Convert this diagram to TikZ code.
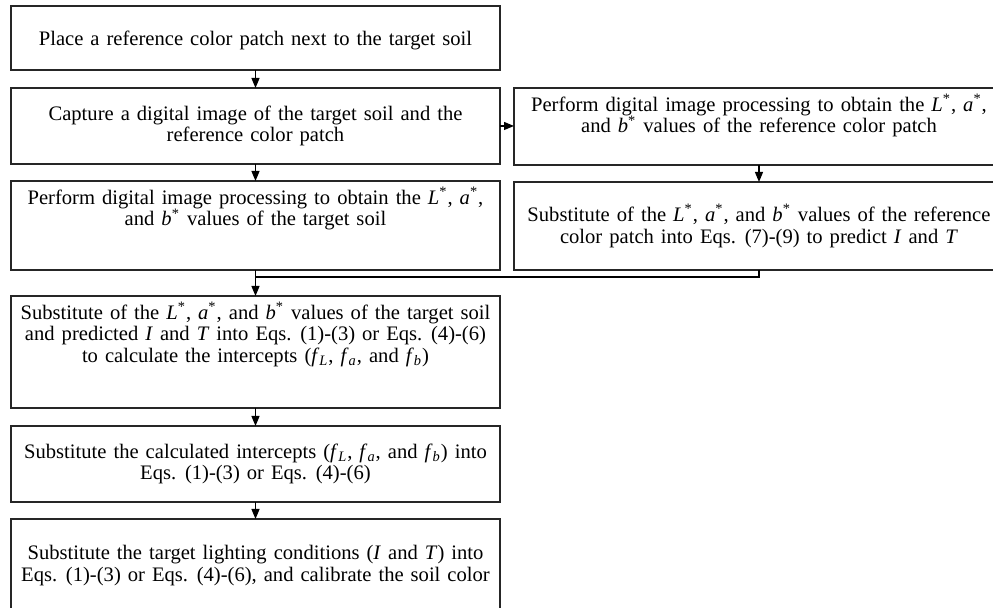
\documentclass[tikz,border=0pt]{standalone}
\usepackage{fontspec}
\setmainfont{Liberation Serif}
\usetikzlibrary{positioning,arrows.meta}
% wider word spacing inside the boxes
\newcommand{\wordgap}{\spaceskip=0.34em plus 0.1em minus 0.05em\relax}
\tikzset{
  boxfont/.style={font={\fontsize{10.3}{10.9}\selectfont\wordgap}},
  flowbox/.style={draw=black!85, line width=0.9pt, outer sep=0pt, minimum width=244.5pt, inner sep=2pt, align=center, boxfont},
  boxtext/.style={align=center, inner sep=0pt, boxfont},
  link/.style={-{Triangle[width=4pt,length=5pt]}, line width=0.6pt},
  joinline/.style={line width=0.6pt}
}
% L*, a*, b* values and the intercepts
\newcommand{\cie}[1]{\textit{#1}\textsuperscript{*}}
\newcommand{\icpt}[1]{\textit{f}\textsubscript{\textit{#1}}}

\begin{document}
\begin{tikzpicture}
\clip (0,0) rectangle (496.5pt,-304pt);

% left column
\node[flowbox, minimum height=32pt, text height=10pt, anchor=north] (place) at (127.75pt,-3pt) {Place a reference color patch next to the target soil};
\node[flowbox, minimum height=38pt, below=9pt of place] (capture) {Capture a digital image of the target soil and the\\reference color patch};
\node[flowbox, minimum height=44.5pt, below=8.5pt of capture] (soilLab) {};
\node[boxtext, below=3pt of soilLab.north] (soilLabText) {Perform digital image processing to obtain the \cie{L}, \cie{a},\\and \cie{b} values of the target soil};
\node[flowbox, minimum height=56pt, below=13pt of soilLab] (intercept) {};
\node[boxtext, below=3pt of intercept.north] (interceptText) {Substitute of the \cie{L}, \cie{a}, and \cie{b} values of the target soil\\and predicted \textit{I} and \textit{T} into Eqs. (1)-(3) or Eqs. (4)-(6)\\to calculate the intercepts (\icpt{L}, \icpt{a}, and \icpt{b})};
\node[flowbox, minimum height=38pt, below=9pt of intercept] (substitute) {Substitute the calculated intercepts (\icpt{L}, \icpt{a}, and \icpt{b}) into\\Eqs. (1)-(3) or Eqs. (4)-(6)};
\node[flowbox, minimum height=50pt, below=8.5pt of substitute] (calibrate) {};
\node[boxtext, below=13pt of calibrate.north] (calibrateText) {Substitute the target lighting conditions (\textit{I} and \textit{T}) into\\Eqs. (1)-(3) or Eqs. (4)-(6), and calibrate the soil color};

% right column
\node[flowbox, minimum width=245pt, minimum height=38.5pt, right=7pt of capture.north east, anchor=north west] (refLab) {};
\node[boxtext, below=3pt of refLab.north] (refLabText) {Perform digital image processing to obtain the \cie{L}, \cie{a},\\and \cie{b} values of the reference color patch};
\node[flowbox, minimum width=245pt, minimum height=44pt, below=8.5pt of refLab] (refPredict) {Substitute of the \cie{L}, \cie{a}, and \cie{b} values of the reference\\color patch into Eqs. (7)-(9) to predict \textit{I} and \textit{T}};

% connectors
\coordinate[below=3.5pt of soilLab.south] (join);
\draw[link] (place) -- (capture);
\draw[link] (capture) -- (soilLab);
\draw[link] (capture.east) -- (refLab.west |- capture.east);
\draw[link] (refLab) -- (refPredict);
\draw[link] (soilLab) -- (intercept);
\draw[joinline] (refPredict.south) |- (join);
\draw[link] (intercept) -- (substitute);
\draw[link] (substitute) -- (calibrate);
\end{tikzpicture}
\end{document}
